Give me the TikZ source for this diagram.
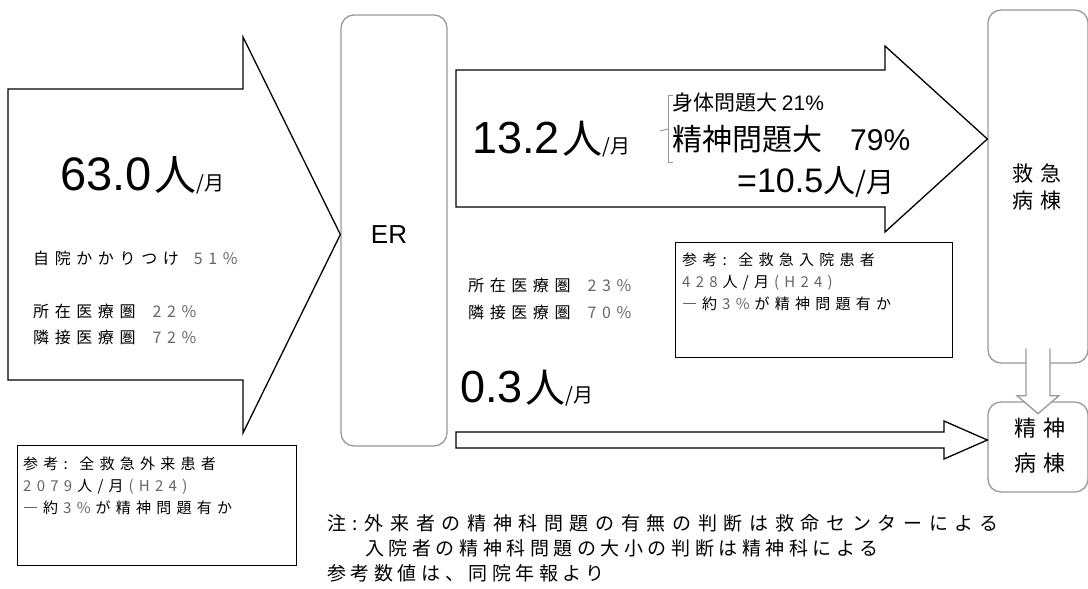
\documentclass[tikz,border=0pt]{standalone}
\usepackage{fontspec}
\setmainfont{Liberation Sans}
\newfontfamily\jp{Noto Sans CJK JP}
\newfontfamily\jpa[LetterSpace=35]{Noto Sans CJK JP}
\newfontfamily\jpb[LetterSpace=35]{Noto Sans CJK JP}
\newfontfamily\jpc[LetterSpace=24]{Noto Sans CJK JP}
\usetikzlibrary{calc}
\definecolor{boxgray}{gray}{0.6}
\definecolor{numgray}{gray}{0.4}
\newcommand{\fs}[2]{\fontsize{#1}{#2}\selectfont}
\newcommand{\gp}{\hspace{5pt}}
\begin{document}
\begin{tikzpicture}[x=1pt,y=-1pt,
  blk/.style={draw=black,line width=1.3pt,fill=white,line join=miter},
  gbox/.style={draw=boxgray,line width=1.3pt,rounded corners=13pt,fill=white,inner sep=0pt},
  garrow/.style={draw=boxgray,line width=1.3pt,fill=white},
  refbox/.style={draw=black,line width=1.3pt,inner sep=0pt},
  brace/.style={draw=boxgray,line width=1pt},
  txt/.style={anchor=west,inner sep=0pt},
]
\useasboundingbox (0,0) rectangle (1088,589);

% wards and ER
\node[gbox,minimum width=106pt,minimum height=431pt] (er) at (394,230.5) {};
\node[inner sep=0pt,font=\fs{26}{26}] (ertext) at (389,235) {ER};
\node[gbox,minimum width=100pt,minimum height=353pt] (icu) at (1038,186.5) {};
\node[inner sep=0pt,align=center,font=\jpb\fs{21}{27}] (icut) at (1037,187) {救急\\病棟};
\node[gbox,minimum width=100pt,minimum height=90pt] (psy) at (1038,447) {};
\node[inner sep=0pt,align=center,font=\jpb\fs{22}{35}] (psyt) at (1040,446) {精神\\病棟};

% down arrow icu -> psy
\draw[garrow] ($(icu.south)+(-12,-15)$) -- ($(icu.south)+(-12,32)$) -- ($(icu.south)+(-21,32)$)
  -- ($(icu.south)+(0,50)$) -- ($(icu.south)+(21,32)$) -- ($(icu.south)+(12,32)$)
  -- ($(icu.south)+(12,-15)$);

% big left arrow into ER
\draw[blk] (8,89) -- (243,89) -- (243,37) -- ($(er.west)+(0,4)$) -- (243,433) -- (243,380) -- (8,380) -- cycle;

% top arrow ER -> icu
\draw[blk] (456,70) -- (885,70) -- (885,46) -- ($(icu.west)+(0,-47.5)$) -- (885,232) -- (885,207) -- (456,207) -- cycle;

% thin arrow ER -> psy
\draw[blk] (456,432) -- (944,432) -- (944,421) -- ($(psy.west)+(0,-7)$) -- (944,459) -- (944,448) -- (456,448) -- cycle;

% reference boxes
\node[refbox,anchor=north west,minimum width=279pt,minimum height=120pt] (ref1) at (17,445) {};
\node[inner sep=0pt,anchor=north west,align=left,font=\jpa\fs{15}{22}] (ref1t) at ($(ref1.north west)+(6,12)$)
  {参考: 全救急外来患者\\{\color{numgray}2079}\gp 人/月\gp{\color{numgray}(H24)}\\―\gp 約\gp{\color{numgray}3\%}\gp が精神問題有か};
\node[refbox,anchor=north west,minimum width=277pt,minimum height=115pt] (ref2) at (675,242) {};
\node[inner sep=0pt,anchor=north west,align=left,font=\jpa\fs{15}{22}] (ref2t) at ($(ref2.north west)+(7,11)$)
  {参考: 全救急入院患者\\{\color{numgray}428}\gp 人/月\gp{\color{numgray}(H24)}\\―\gp 約\gp{\color{numgray}3\%}\gp が精神問題有か};

% left arrow texts
\node[txt] (v63) at (60,175) {{\fs{47}{47}63.0}\hspace{3pt}{\jp\fs{42}{42}人}{\jp\fs{20}{20}/月}};
\node[txt,font=\jpa\fs{16}{16}] (own) at (33,258) {自院かかりつけ\hspace{15pt}{\color{numgray}51\%}};
\node[txt,font=\jpa\fs{16}{16}] (loc1) at (33,311) {所在医療圏\hspace{17pt}{\color{numgray}22\%}};
\node[txt,font=\jpa\fs{16}{16}] (adj1) at (33,337) {隣接医療圏\hspace{17pt}{\color{numgray}72\%}};

% top arrow texts
\node[txt] (v13) at (472,139) {{\fs{45}{45}13.2}\hspace{3pt}{\jp\fs{40}{40}人}{\jp\fs{20}{20}/月}};
\draw[brace] (673,95) -- (668,95) -- (668,162) -- (673,162);
\draw[brace] (668,129) -- (660,131);
\node[txt,font=\jp\fs{21}{21}] (body) at (672,103) {身体問題大 {\rmfamily 21\%}};
\node[txt,font=\jp\fs{30}{30}] (psych) at (672,139) {精神問題大\hspace{28pt}{\rmfamily 79\%}};
\node[txt] (v105) at (737,182) {{\fs{34}{34}=10.5}{\jp\fs{32}{32}人}{\jp\fs{28}{28}/月}};

% ER origin texts
\node[txt,font=\jpa\fs{16}{16}] (loc2) at (468,285) {所在医療圏\hspace{17pt}{\color{numgray}23\%}};
\node[txt,font=\jpa\fs{16}{16}] (adj2) at (468,312) {隣接医療圏\hspace{17pt}{\color{numgray}70\%}};

% thin arrow text
\node[txt] (v03) at (460,388) {{\fs{45}{45}0.3}\hspace{3pt}{\jp\fs{40}{40}人}{\jp\fs{20}{20}/月}};

% notes
\node[txt,font=\jpb\fs{19}{19}] (note1) at (327,523) {注:外来者の精神科問題の有無の判断は救命センターによる};
\node[txt,font=\jpc\fs{19}{19}] (note2) at (365,548) {入院者の精神科問題の大小の判断は精神科による};
\node[txt,font=\jpc\fs{19}{19}] (note3) at (327,573) {参考数値は、同院年報より};
\end{tikzpicture}
\end{document}
